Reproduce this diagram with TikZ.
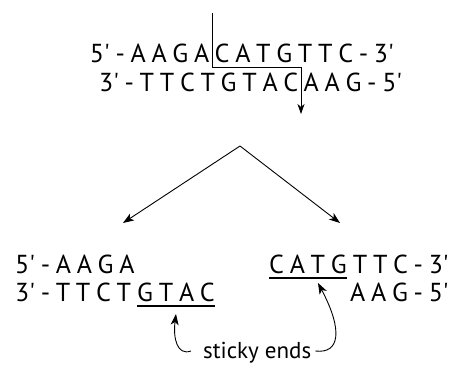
\documentclass[tikz,border=0pt]{standalone}
\usepackage{fontspec}
\setmainfont{PT Sans}
\usetikzlibrary{arrows.meta}
\newcommand\pr{\textquotesingle}
\newcommand\gp{\hspace{0.22em}}
\begin{document}
\begin{tikzpicture}[x=1pt,y=-1pt,
  strand/.style={inner ysep=0pt, inner xsep=2.5pt, font=\fontsize{26}{26}\selectfont},
  label/.style={inner sep=0pt, font=\fontsize{23}{23}\selectfont},
  arr/.style={line width=0.9pt, -{Stealth[length=11pt,width=8pt,inset=3pt]}},
  cut/.style={line width=0.7pt, -{Stealth[length=10pt,width=7pt,inset=3pt]}},
  uline/.style={line width=1.6pt}]
\useasboundingbox (0,0) rectangle (461,365);
% top duplex
\node[strand, anchor=base east] (t1l) at (212,62) {5\pr\gp-\gp A\gp A\gp G\gp A};
\node[strand, anchor=base west] (t1r) at (212,62) {C\gp A\gp T\gp G\gp T\gp T\gp C\gp-\gp 3\pr};
\node[strand, anchor=base east] (t2l) at (301,91) {3\pr\gp-\gp T\gp T\gp C\gp T\gp G\gp T\gp A\gp C};
\node[strand, anchor=base west] (t2r) at (301,91) {A\gp A\gp G\gp-\gp 5\pr};
% cut line
\coordinate (c1) at (212,13);
\coordinate (c2) at (301,67);
\coordinate (c3) at (301,114);
\draw[cut] (c1) |- (c2) -- (c3);
% split arrows
\coordinate (apex) at (240,146);
\coordinate (lt) at (123,223);
\coordinate (rt) at (340,223);
\draw[arr] (apex) -- (lt);
\draw[arr] (apex) -- (rt);
% bottom left fragment
\node[strand, anchor=base west, inner xsep=0pt] (b1l) at (15,273) {5\pr\gp-\gp A\gp A\gp G\gp A};
\node[strand, anchor=base west, inner xsep=0pt] (b2l) at (15,301) {3\pr\gp-\gp T\gp T\gp C\gp T};
\node[strand, anchor=base west, inner xsep=0pt] (b2s) at ([xshift=5.7pt]b2l.base east) {G\gp T\gp A\gp C};
\draw[uline] ([yshift=-5pt]b2s.base west) -- ([yshift=-5pt]b2s.base east);
% bottom right fragment
\node[strand, anchor=base west, inner xsep=0pt] (b1s) at (269,273) {C\gp A\gp T\gp G};
\node[strand, anchor=base west, inner xsep=0pt] (b1r) at ([xshift=5.7pt]b1s.base east) {T\gp T\gp C\gp-\gp 3\pr};
\node[strand, anchor=base east, inner xsep=0pt] (b2r) at (b1r.base east |- 0,301) {A\gp A\gp G\gp-\gp 5\pr};
\draw[uline] ([yshift=-5pt]b1s.base west) -- ([yshift=-5pt]b1s.base east);
% label
\node[label, anchor=base west] (se) at (203,358) {sticky ends};
\coordinate (la) at (176,314);
\coordinate (ra) at (318,283);
\draw[arr] ([xshift=-12pt,yshift=7pt]se.base west) .. controls (177,356) and (173,338) .. (la);
\draw[arr] ([xshift=4pt,yshift=7pt]se.base east) .. controls (340,354) and (343,330) .. (ra);
\end{tikzpicture}
\end{document}
